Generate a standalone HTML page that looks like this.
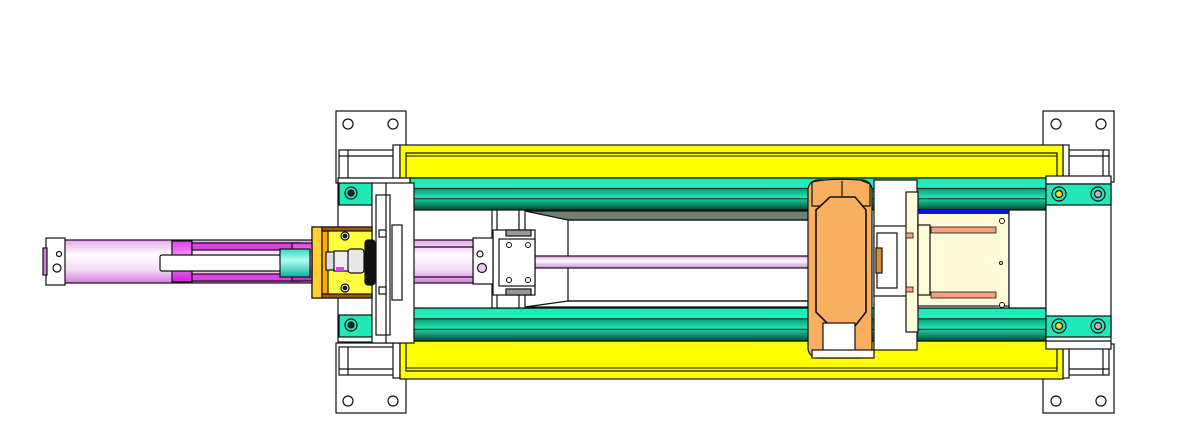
<!DOCTYPE html>
<html><head><meta charset="utf-8"><style>
html,body{margin:0;padding:0;background:#fff;}
svg{display:block;}
</style></head><body>
<svg width="1182" height="447" viewBox="0 0 1182 447" xmlns="http://www.w3.org/2000/svg" stroke="#111" stroke-width="1.2">
<defs>
<linearGradient id="gr" x1="0" y1="0" x2="0" y2="1">
<stop offset="0" stop-color="#1fe8b4"/><stop offset="0.3" stop-color="#22f0c0"/>
<stop offset="0.32" stop-color="#111"/><stop offset="0.36" stop-color="#0aa57c"/>
<stop offset="0.62" stop-color="#20e8b8"/><stop offset="0.64" stop-color="#111"/>
<stop offset="0.68" stop-color="#16c896"/><stop offset="1" stop-color="#064a36"/>
</linearGradient>
<linearGradient id="pk" x1="0" y1="0" x2="0" y2="1">
<stop offset="0" stop-color="#e8a8f0"/><stop offset="0.35" stop-color="#fff"/><stop offset="0.7" stop-color="#f4d8f6"/><stop offset="1" stop-color="#d27ee0"/>
</linearGradient>
<linearGradient id="mg" x1="0" y1="0" x2="0" y2="1">
<stop offset="0" stop-color="#e040e8"/><stop offset="0.4" stop-color="#f49cf6"/><stop offset="1" stop-color="#d020d8"/>
</linearGradient>
<linearGradient id="cy" x1="0" y1="0" x2="0" y2="1">
<stop offset="0" stop-color="#2ad8c8"/><stop offset="0.4" stop-color="#b0fff0"/><stop offset="1" stop-color="#10b0a0"/>
</linearGradient>
<linearGradient id="rod" x1="0" y1="0" x2="0" y2="1">
<stop offset="0" stop-color="#d8a0e8"/><stop offset="0.4" stop-color="#fff"/><stop offset="1" stop-color="#c890dc"/>
</linearGradient>
</defs>

<!-- bracket plates -->
<g fill="#fff">
<rect x="336" y="111" width="70" height="72"/>
<rect x="336" y="343" width="70" height="70"/>
<rect x="1043" y="111" width="71" height="71"/>
<rect x="1043" y="344" width="71" height="69"/>
</g>
<g fill="#fff">
<circle cx="348" cy="124" r="5"/><circle cx="393" cy="124" r="5"/>
<circle cx="348" cy="401" r="5"/><circle cx="393" cy="401" r="5"/>
<circle cx="1056" cy="124" r="5"/><circle cx="1101" cy="124" r="5"/>
<circle cx="1056" cy="401" r="5"/><circle cx="1101" cy="401" r="5"/>
</g>
<g fill="#fff">
<rect x="339" y="150" width="57" height="28"/><line x1="348" y1="150" x2="348" y2="178"/><line x1="339" y1="156" x2="396" y2="156"/>
<rect x="339" y="347" width="57" height="28"/><line x1="348" y1="347" x2="348" y2="375"/><line x1="339" y1="369" x2="396" y2="369"/>
<rect x="1069" y="150" width="40" height="28"/><line x1="1103" y1="150" x2="1103" y2="178"/><line x1="1069" y1="156" x2="1109" y2="156"/>
<rect x="1069" y="347" width="40" height="28"/><line x1="1103" y1="347" x2="1103" y2="375"/><line x1="1069" y1="369" x2="1109" y2="369"/>
<rect x="393" y="145" width="7" height="33"/><rect x="393" y="343" width="7" height="35"/>
<rect x="1063" y="145" width="6" height="33"/><rect x="1063" y="343" width="6" height="35"/>
</g>

<!-- yellow frame -->
<rect x="400" y="145" width="663" height="33" fill="#ffff00"/>
<rect x="406" y="153" width="651" height="25" fill="#ffff00"/>
<line x1="406" y1="156" x2="1057" y2="156" stroke-width="1"/>
<rect x="400" y="341" width="663" height="38" fill="#ffff00"/>
<rect x="406" y="341" width="651" height="30" fill="#ffff00"/>
<line x1="406" y1="368" x2="1057" y2="368" stroke-width="1"/>

<!-- green rails -->
<rect x="410" y="178" width="636" height="32" fill="url(#gr)"/>
<rect x="410" y="308" width="636" height="33" fill="url(#gr)"/>
<rect x="410" y="210" width="636" height="98" fill="#fff"/>

<!-- center: grey trapezoids -->
<polygon points="525,211 808,211 808,220 568,220" fill="#6f7f74"/>
<polygon points="525,307 808,307 808,301 568,301" fill="#fff"/>
<line x1="568" y1="220" x2="568" y2="301"/>
<line x1="568" y1="220" x2="808" y2="220"/>
<line x1="568" y1="301" x2="808" y2="301"/>
<rect x="492" y="210" width="33" height="98" fill="#fff"/>
<line x1="497" y1="210" x2="497" y2="308"/><line x1="519" y1="210" x2="519" y2="308"/>

<!-- long rod -->
<rect x="500" y="256" width="310" height="12" fill="url(#rod)"/>
<!-- guide block -->
<rect x="493" y="230" width="42" height="65" fill="#fff"/>
<rect x="506" y="230" width="25" height="6" fill="#999"/><rect x="506" y="289" width="25" height="6" fill="#999"/>
<rect x="499" y="239" width="36" height="47" fill="#fff"/>
<g fill="#fff" stroke-width="1"><circle cx="509" cy="245" r="2.5"/><circle cx="528" cy="245" r="2.5"/><circle cx="509" cy="280" r="2.5"/><circle cx="528" cy="280" r="2.5"/></g>
<rect x="473" y="238" width="20" height="46" fill="#fff"/>
<circle cx="480" cy="254" r="3" fill="#fff"/><circle cx="482" cy="268" r="4.5" fill="#f3c8f6"/>

<!-- pink cylinder rod from left plate -->
<rect x="413" y="240" width="60" height="43" fill="url(#pk)"/>
<line x1="413" y1="247" x2="473" y2="247"/><line x1="413" y1="277" x2="473" y2="277"/>

<!-- left end block -->
<rect x="338" y="178" width="72" height="164" fill="#fff"/>
<rect x="339" y="183" width="33" height="22" fill="#20e8b8"/>
<rect x="339" y="315" width="33" height="22" fill="#20e8b8"/>
<circle cx="351" cy="193" r="6" fill="#20e8b8"/><circle cx="351" cy="193" r="3" fill="#222"/>
<circle cx="351" cy="325" r="6" fill="#20e8b8"/><circle cx="351" cy="325" r="3" fill="#222"/>
<rect x="372" y="183" width="42" height="160" fill="#fff"/>
<rect x="376" y="195" width="14" height="140" fill="#fff"/>
<line x1="386" y1="183" x2="386" y2="343"/>
<rect x="392" y="225" width="10" height="75" fill="#fff"/>
<rect x="379" y="230" width="7" height="7" fill="#fff"/><rect x="379" y="287" width="7" height="7" fill="#fff"/>

<!-- yellow mount bracket -->
<rect x="312" y="227" width="60" height="71" fill="#ffff40"/>
<rect x="312" y="227" width="10" height="71" fill="#ffd030"/>
<rect x="322" y="231" width="6" height="63" fill="#ffaa00"/>
<rect x="322" y="227" width="50" height="4" fill="#a05a10"/><rect x="322" y="294" width="50" height="4" fill="#a05a10"/>
<rect x="365" y="240" width="10" height="45" rx="3" fill="#111"/>
<circle cx="345" cy="236" r="4" fill="#fff"/><circle cx="345" cy="236" r="1.8" fill="#222"/>
<circle cx="345" cy="288" r="4" fill="#fff"/><circle cx="345" cy="288" r="1.8" fill="#222"/>
<rect x="326" y="252" width="10" height="18" fill="#ddd"/>
<rect x="334" y="251" width="16" height="20" fill="#eee"/>
<rect x="348" y="249" width="16" height="24" rx="3" fill="#e8e8e8"/>
<rect x="336" y="267" width="8" height="4" fill="#e040e8" stroke="none"/>

<!-- left cylinder -->
<rect x="60" y="240" width="252" height="43" fill="url(#pk)"/>
<rect x="172" y="241" width="20" height="41" fill="url(#mg)"/>
<rect x="192" y="243" width="108" height="38" fill="url(#pk)"/>
<rect x="192" y="243" width="108" height="7" fill="#e040e8"/>
<rect x="192" y="274" width="108" height="7" fill="#e040e8"/>
<rect x="292" y="243" width="20" height="38" fill="url(#mg)"/>
<rect x="160" y="255" width="124" height="16" rx="2" fill="#fff"/>
<rect x="280" y="249" width="30" height="28" fill="url(#cy)"/>
<rect x="46" y="238" width="19" height="47" fill="#fff"/>
<rect x="43" y="248" width="4" height="27" fill="#d080e0"/>
<circle cx="59" cy="254" r="2.5" fill="#fff"/><circle cx="57" cy="268" r="4" fill="#fff"/>

<!-- orange carriage -->
<rect x="808" y="180" width="64" height="178" rx="10" fill="#f8b060"/>
<path d="M812 182 Q830 178 860 180 L870 184 L870 206 L812 206 Z" fill="#f8b060"/>
<polygon points="830,197 855,197 866,210 866,312 855,326 830,326 816,312 816,210" fill="#f8b060" stroke-width="1.6"/>
<line x1="842" y1="181" x2="842" y2="196"/>
<rect x="823" y="323" width="32" height="30" fill="#fff"/>
<rect x="812" y="350" width="62" height="8" fill="#fff"/>
<rect x="874" y="180" width="43" height="170" fill="#fff"/>
<rect x="874" y="226" width="34" height="70" fill="#fff"/>
<rect x="877" y="233" width="20" height="55" fill="#fff"/>
<rect x="876" y="248" width="6" height="25" fill="#d89040"/>
<rect x="906" y="192" width="12" height="140" fill="#fffbd8"/>
<rect x="906" y="233" width="7" height="5" fill="#f8a080" stroke-width="0.8"/>
<rect x="906" y="287" width="7" height="5" fill="#f8a080" stroke-width="0.8"/>

<!-- cream block -->
<rect x="918" y="210" width="91" height="96" fill="#fffbd8"/>
<rect x="918" y="210" width="91" height="4" fill="#1010ee" stroke="none"/>
<rect x="918" y="225" width="12" height="70" fill="#fffbd8"/>
<rect x="931" y="227" width="65" height="6" fill="#f8a080" stroke-width="0.8"/>
<rect x="931" y="292" width="65" height="6" fill="#f8a080" stroke-width="0.8"/>
<g fill="#fff" stroke-width="1"><circle cx="1002" cy="221" r="2.5"/><circle cx="1002" cy="305" r="2.5"/><circle cx="1001" cy="263" r="1.5"/></g>
<rect x="1009" y="210" width="37" height="98" fill="#fff"/>

<!-- right end block -->
<rect x="1046" y="176" width="65" height="173" fill="#fff"/>
<line x1="1046" y1="184" x2="1111" y2="184"/><line x1="1046" y1="341" x2="1111" y2="341"/>
<rect x="1046" y="184" width="65" height="21" fill="#20e8b8"/>
<rect x="1046" y="316" width="65" height="21" fill="#20e8b8"/>
<g stroke-width="1.2">
<circle cx="1059" cy="194" r="7" fill="#20e8b8"/><circle cx="1059" cy="194" r="3.5" fill="#ffe000"/>
<circle cx="1098" cy="194" r="7" fill="#20e8b8"/><circle cx="1098" cy="194" r="3.5" fill="#bbb"/>
<circle cx="1059" cy="326" r="7" fill="#20e8b8"/><circle cx="1059" cy="326" r="3.5" fill="#ffe000"/>
<circle cx="1098" cy="326" r="7" fill="#20e8b8"/><circle cx="1098" cy="326" r="3.5" fill="#bbb"/>
</g>
</svg>
</body></html>
